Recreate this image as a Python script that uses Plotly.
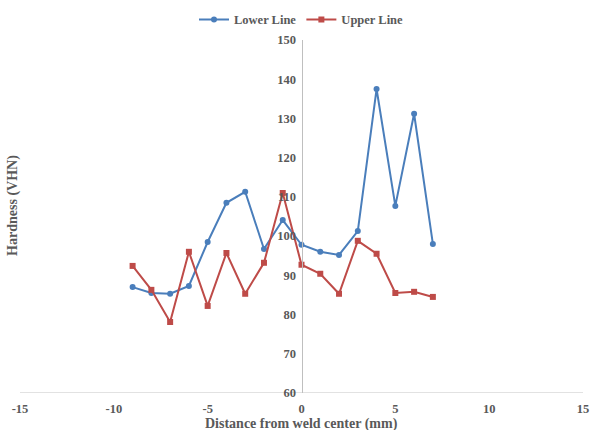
import plotly.graph_objects as go

distance = [-9, -8, -7, -6, -5, -4, -3, -2, -1, 0, 1, 2, 3, 4, 5, 6, 7]
lower_line = [87.0, 85.5, 85.3, 87.3, 98.5, 108.5, 111.3, 96.7, 104.1, 97.8, 96.0, 95.2, 101.3, 137.5, 107.7, 131.2, 98.0]
upper_line = [92.4, 86.3, 78.1, 96.0, 82.2, 95.7, 85.3, 93.2, 111.0, 92.7, 90.4, 85.3, 98.8, 95.5, 85.5, 85.8, 84.5]
x_ticks = [-15, -10, -5, 0, 5, 10, 15]
x_tick_labels = ["-15", "-10", "-5", "0", "5", "10", "15"]
y_ticks = [60, 70, 80, 90, 100, 110, 120, 130, 140, 150]

FONT = "Liberation Serif"
GREY = "#595959"

fig = go.Figure()
fig.add_trace(go.Scatter(
    x=distance, y=lower_line, name="Lower Line", mode="lines+markers",
    line=dict(color="#4A7EBB", width=2),
    marker=dict(symbol="circle", size=6, color="#4A7EBB"),
))
fig.add_trace(go.Scatter(
    x=distance, y=upper_line, name="Upper Line", mode="lines+markers",
    line=dict(color="#BE4B48", width=2),
    marker=dict(symbol="square", size=6, color="#BE4B48"),
))

fig.update_layout(
    width=592, height=430,
    margin=dict(l=20, r=9, t=40, b=37, autoexpand=False),
    paper_bgcolor="white", plot_bgcolor="white",
    font=dict(family=FONT, size=12, color=GREY),
    showlegend=True,
    legend=dict(orientation="h", x=0.5, xanchor="center", y=1.057, yanchor="middle",
                font=dict(family=FONT, size=12.5, color=GREY, weight="bold"),
                bgcolor="rgba(0,0,0,0)"),
    xaxis=dict(range=[-15, 15], tickvals=x_ticks, ticktext=x_tick_labels,
               showgrid=False, zeroline=False, showline=False, ticks="",
               automargin=False, ticklabelstandoff=6,
               tickfont=dict(family=FONT, size=12.5, color=GREY, weight="bold")),
    yaxis=dict(range=[60, 150], tickvals=y_ticks, showgrid=False, zeroline=False,
               showline=True, linecolor="#BFBFBF", linewidth=1, ticks="",
               automargin=False, anchor="free", position=0.5, ticklabelstandoff=3,
               tickfont=dict(family=FONT, size=12.5, color=GREY, weight="bold")),
    shapes=[dict(type="line", xref="paper", yref="y", x0=0, x1=1, y0=60, y1=60,
                 line=dict(color="#D9D9D9", width=1.5), layer="below")],
    annotations=[
        dict(text="Hardness (VHN)", textangle=-90, xref="paper", yref="paper",
             x=0, y=0.53, xshift=-7, xanchor="center", yanchor="middle", showarrow=False,
             font=dict(family=FONT, size=14, color=GREY, weight="bold")),
        dict(text="Distance from weld center (mm)", xref="paper", yref="paper",
             x=0.5, y=0, yshift=-31, xanchor="center", yanchor="middle", showarrow=False,
             font=dict(family=FONT, size=14, color=GREY, weight="bold")),
    ],
)

fig.write_html(
    "out.html",
    config={"displayModeBar": False},
    post_script="document.body.style.margin='0';document.body.style.overflow='hidden';",
)
